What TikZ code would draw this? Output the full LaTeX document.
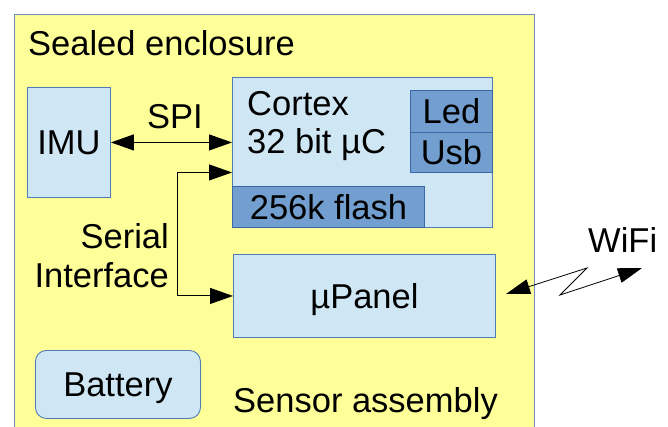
\documentclass[tikz,border=0pt]{standalone}
\usepackage{fontspec}
\setmainfont{Liberation Sans}
\usetikzlibrary{arrows.meta}
\definecolor{encfill}{HTML}{FFFF99}
\definecolor{encline}{HTML}{6F8FC0}
\definecolor{lightfill}{HTML}{CFE7F5}
\definecolor{lightline}{HTML}{4F7DB8}
\definecolor{darkfill}{HTML}{729FCF}
\definecolor{darkline}{HTML}{3B69A8}
\begin{document}
\begin{tikzpicture}[x=1pt,y=-1pt,
  txt/.style={font=\fontsize{34.5}{38}\selectfont, inner sep=0pt},
  lbox/.style={draw=lightline, fill=lightfill, line width=0.9pt, inner sep=0pt, anchor=north west,
     font=\fontsize{34.5}{38}\selectfont, text depth=0pt},
  dbox/.style={draw=darkline, fill=darkfill, line width=0.9pt, inner sep=0pt, anchor=north west,
     font=\fontsize{34.5}{38}\selectfont, text depth=0pt},
  conn/.style={line width=1pt, {Triangle[length=23pt,width=16pt]}-{Triangle[length=23pt,width=16pt]}},
  wconn/.style={line width=0.8pt, {Triangle[length=24pt,width=15pt]}-{Triangle[length=24pt,width=15pt]}}
]
\clip (0,0) rectangle (668,426);
\fill[white] (0,0) rectangle (668,426);
% enclosure
\node[draw=encline, fill=encfill, line width=0.9pt, inner sep=0pt, anchor=north west,
      minimum width=520.5pt, minimum height=430pt] (enc) at (13.5,13.5) {};
\node[txt, anchor=base west] (sealed) at (28,55) {Sealed enclosure};
% IMU
\node[lbox, minimum width=83pt, minimum height=110pt] (imu) at (27,87) {IMU};
% Cortex
\node[lbox, minimum width=260pt, minimum height=150pt] (cortex) at (232,77) {};
\node[txt, anchor=base west] (cortexA) at (247,115) {Cortex};
\node[txt, anchor=base west] (cortexB) at (247,153) {32 bit µC};
\node[dbox, minimum width=82pt, minimum height=42pt] (led) at (410,90) {Led};
\node[dbox, minimum width=82pt, minimum height=40pt] (usb) at (410,132) {Usb};
\node[dbox, minimum width=192pt, minimum height=41pt] (flash) at (232,186) {256k flash};
% uPanel
\node[lbox, minimum width=262pt, minimum height=83pt] (upanel) at (233,254) {µPanel};
% Battery
\node[lbox, rounded corners=11pt, minimum width=165pt, minimum height=68pt] (battery) at (35,350) {Battery};
\node[txt, anchor=base west] (sensor) at (233,412) {Sensor assembly};
% labels
\node[txt, anchor=base] (spi) at (175,128) {SPI};
\node[txt, anchor=base east] (serialA) at (169,248) {Serial};
\node[txt, anchor=base east] (serialB) at (169,287) {Interface};
\node[txt, anchor=base west] (wifi) at (588,252) {WiFi};
% connectors
\draw[conn] (imu.east) -- (imu.east -| cortex.west);
\draw[conn] ([yshift=-20pt]cortex.west) -- ++(-55,0) |- (upanel.west);
\coordinate (wA) at (506,294);
\coordinate (wZ1) at (587,268);
\coordinate (wZ2) at (560,295);
\coordinate (wB) at (642,268);
\draw[wconn] (wA) -- (wZ1) -- (wZ2) -- (wB);
\end{tikzpicture}
\end{document}
